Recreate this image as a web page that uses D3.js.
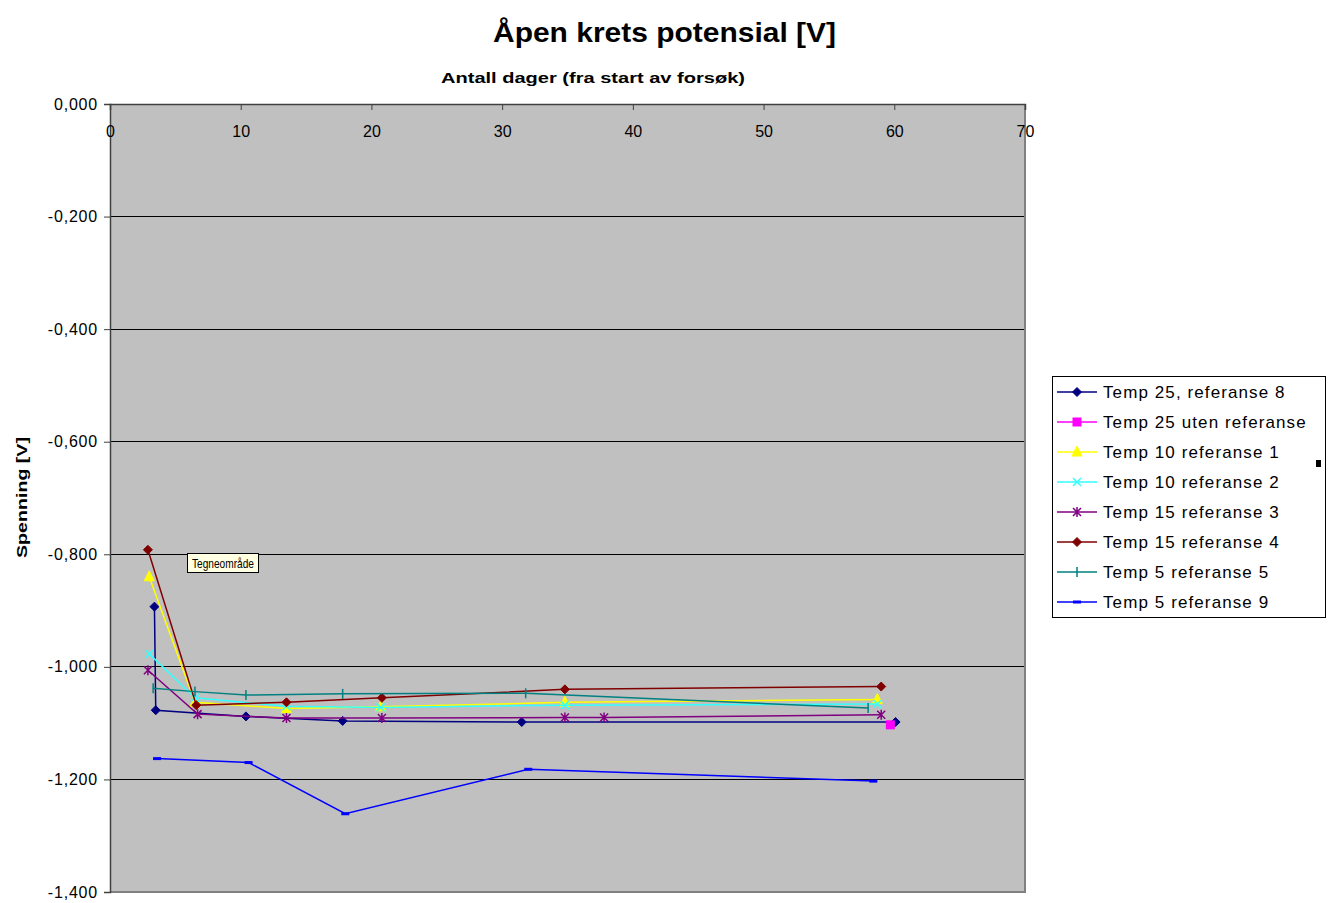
<!DOCTYPE html>
<html><head><meta charset="utf-8">
<script src="https://cdn.jsdelivr.net/npm/d3@7"></script>
<style>body{margin:0;background:#fff;} svg{display:block;font-family:"Liberation Sans",Arial,sans-serif;}</style>
</head><body>
<svg id="chart" width="1333" height="903"></svg>
<script>
const title = "Åpen krets potensial [V]";
const xTitle = "Antall dager (fra start av forsøk)";
const yTitle = "Spenning [V]";
const xTicks = [0,10,20,30,40,50,60,70];
const yTicks = [0,-0.2,-0.4,-0.6,-0.8,-1.0,-1.2,-1.4];
const seriesNames = ["Temp 25, referanse 8","Temp 25 uten referanse","Temp 10 referanse 1","Temp 10 referanse 2","Temp 15 referanse 3","Temp 15 referanse 4","Temp 5 referanse 5","Temp 5 referanse 9"];
const seriesColors = ["#000080","#FF00FF","#FFFF00","#33FFFF","#800080","#800000","#008080","#0000FF"];
const seriesMarkers = ["diamond","square","triangle","x","asterisk","diamond","plus","dash"];
const s1 = [[3.4,-0.893],[3.5,-1.077],[10.4,-1.088],[17.8,-1.096],[31.5,-1.098],[60.1,-1.098]];
const s2 = [[59.7,-1.103]];
const s3 = [[3.0,-0.840],[6.5,-1.063],[13.5,-1.074],[20.7,-1.071],[34.8,-1.063],[58.7,-1.058]];
const s4 = [[3.0,-0.977],[6.5,-1.055],[13.5,-1.070],[20.7,-1.072],[34.8,-1.068],[58.7,-1.066]];
const s5 = [[2.9,-1.006],[6.7,-1.084],[13.5,-1.091],[20.8,-1.091],[34.8,-1.090],[37.8,-1.090],[59.0,-1.085]];
const s6 = [[2.9,-0.792],[6.6,-1.068],[13.5,-1.063],[20.8,-1.055],[34.8,-1.040],[59.0,-1.035]];
const s7 = [[3.3,-1.038],[6.5,-1.044],[10.4,-1.050],[17.8,-1.048],[31.8,-1.047],[58.0,-1.073]];
const s8 = [[3.6,-1.163],[10.6,-1.170],[18.0,-1.261],[32.0,-1.182],[58.4,-1.203]];
const seriesData = [s1,s2,s3,s4,s5,s6,s7,s8];

const svg = d3.select("#chart");
const L=110, R=1025, T=104, B=892;
const x = d3.scaleLinear().domain([0,70]).range([L,R]);
const y = d3.scaleLinear().domain([0,-1.4]).range([T,B]);

// plot area
svg.append("rect").attr("x",L).attr("y",T).attr("width",R-L).attr("height",B-T).attr("fill","#C0C0C0");
// gridlines
svg.append("g").selectAll("line").data(yTicks.slice(1,-1)).join("line")
  .attr("x1",L).attr("x2",R).attr("y1",d=>y(d)).attr("y2",d=>y(d))
  .attr("stroke","#000").attr("stroke-width",1).attr("shape-rendering","crispEdges");
// right & bottom border
svg.append("path").attr("d",`M${R},${T}V${B}H${L}`).attr("fill","none").attr("stroke","#808080").attr("stroke-width",1.5).attr("shape-rendering","crispEdges");

// y axis
const yAxis = d3.axisLeft(y).tickValues(yTicks).tickSize(6).tickPadding(6)
  .tickFormat(d=>d3.format(".3f")(d).replace(".",",").replace("−","-"));
const gy = svg.append("g").attr("transform",`translate(${L},0)`).call(yAxis);
gy.select(".domain").attr("stroke","#404040").attr("stroke-width",1.5);
gy.selectAll(".tick line").attr("stroke","#404040");
gy.selectAll("text").attr("font-size",16).attr("letter-spacing","0.8px").attr("fill","#000").attr("font-family","Liberation Sans, Arial, sans-serif");

// x axis at top, ticks inside
const xAxis = d3.axisTop(x).tickValues(xTicks).tickSize(-6).tickFormat(d3.format("d"));
const gx = svg.append("g").attr("transform",`translate(0,${T})`).call(xAxis);
gx.select(".domain").attr("stroke","#404040").attr("stroke-width",1.5);
gx.selectAll(".tick line").attr("stroke","#404040");
gx.selectAll("text").attr("y",27).attr("dy","0.35em").attr("font-size",16).attr("fill","#000").attr("font-family","Liberation Sans, Arial, sans-serif");

// titles
svg.append("text").attr("x",493).attr("y",42).attr("font-size",27).attr("font-weight","bold")
  .attr("textLength",343).attr("lengthAdjust","spacingAndGlyphs").text(title);
svg.append("text").attr("x",441).attr("y",83).attr("font-size",15).attr("font-weight","bold")
  .attr("textLength",304).attr("lengthAdjust","spacingAndGlyphs").text(xTitle);
svg.append("text").attr("transform",`translate(27,558) rotate(-90)`).attr("font-size",15).attr("font-weight","bold")
  .attr("textLength",121).attr("lengthAdjust","spacingAndGlyphs").text(yTitle);

// markers
function drawMarker(g, type, color, cx, cy){
  const s=4.5;
  if(type==="diamond"){
    g.append("path").attr("d",`M${cx},${cy-s}L${cx+s},${cy}L${cx},${cy+s}L${cx-s},${cy}Z`).attr("fill",color).attr("stroke",color);
  } else if(type==="square"){
    g.append("rect").attr("x",cx-4.5).attr("y",cy-4.5).attr("width",9).attr("height",9).attr("fill",color);
  } else if(type==="triangle"){
    g.append("path").attr("d",`M${cx},${cy-6}L${cx+5},${cy+4}L${cx-5},${cy+4}Z`).attr("fill",color).attr("stroke",color);
  } else if(type==="x"){
    g.append("path").attr("d",`M${cx-4},${cy-4}L${cx+4},${cy+4}M${cx-4},${cy+4}L${cx+4},${cy-4}`).attr("stroke",color).attr("stroke-width",1.5);
  } else if(type==="asterisk"){
    g.append("path").attr("d",`M${cx-4},${cy-4}L${cx+4},${cy+4}M${cx-4},${cy+4}L${cx+4},${cy-4}M${cx},${cy-5}V${cy+5}`).attr("stroke",color).attr("stroke-width",1.5);
  } else if(type==="plus"){
    g.append("path").attr("d",`M${cx},${cy-5}V${cy+5}`).attr("stroke",color).attr("stroke-width",1.5);
  } else if(type==="dash"){
    g.append("rect").attr("x",cx-4).attr("y",cy-1.5).attr("width",8).attr("height",3).attr("fill",color);
  }
}

const line = d3.line().x(d=>x(d[0])).y(d=>y(d[1]));
seriesData.forEach((data,i)=>{
  const g = svg.append("g");
  g.append("path").datum(data).attr("d",line).attr("fill","none").attr("stroke",seriesColors[i]).attr("stroke-width",1.5);
  data.forEach(d=>drawMarker(g, seriesMarkers[i], seriesColors[i], x(d[0]), y(d[1])));
});

// tooltip artifact
const tip = svg.append("g");
tip.append("rect").attr("x",187.5).attr("y",553.5).attr("width",71).attr("height",19).attr("fill","#FFFFE1").attr("stroke","#000");
tip.append("text").attr("x",192).attr("y",568).attr("font-size",13)
  .attr("textLength",62).attr("lengthAdjust","spacingAndGlyphs").attr("fill","#000").text("Tegneområde");

// legend
const lg = svg.append("g");
lg.append("rect").attr("x",1052.5).attr("y",376.5).attr("width",273).attr("height",241).attr("fill","#fff").attr("stroke","#000");
seriesNames.forEach((n,i)=>{
  const yy = 392 + i*30;
  lg.append("line").attr("x1",1057).attr("x2",1097).attr("y1",yy).attr("y2",yy).attr("stroke",seriesColors[i]).attr("stroke-width",1.5);
  drawMarker(lg, seriesMarkers[i], seriesColors[i], 1077, yy);
  lg.append("text").attr("x",1103).attr("y",yy).attr("dy","0.35em").attr("font-size",17).attr("letter-spacing","1.1px").attr("fill","#000").text(n);
});
svg.append("rect").attr("x",1316).attr("y",460).attr("width",5).attr("height",7).attr("fill","#000");
</script>
</body></html>
